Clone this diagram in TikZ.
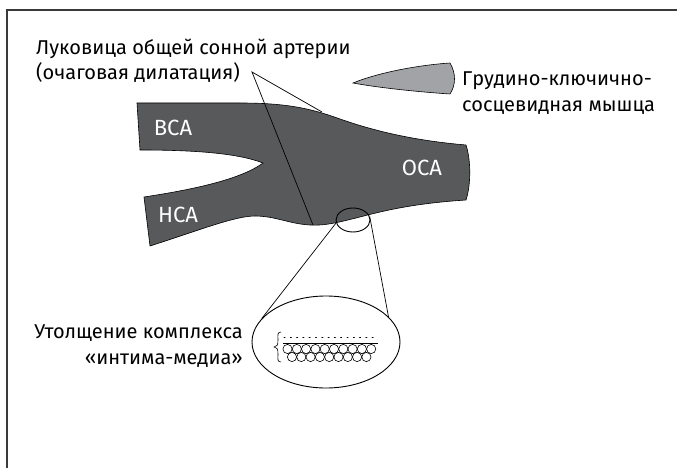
\documentclass[tikz,border=0pt]{standalone}
\usepackage{fontspec}
\setmainfont{Fira Sans}[Script=Cyrillic,Language=Bulgarian]
\usetikzlibrary{shapes.geometric}
\definecolor{vessel}{HTML}{58595B}
\definecolor{muscle}{HTML}{A2A3A6}
\definecolor{framec}{HTML}{3A3A3A}
\tikzset{
  label text/.style={font=\fontsize{20}{25.5}\selectfont, text=black, inner sep=0pt},
  vessel text/.style={font=\fontsize{22}{24}\selectfont, text=white, inner sep=0pt},
  pointer/.style={draw=black, line width=0.7pt},
  lens/.style={draw=black, ellipse, line width=0.9pt, inner sep=0pt},
}
\begin{document}
\begin{tikzpicture}[x=1pt,y=-1pt]
\useasboundingbox (0,0) rectangle (677,468);
% frame
\draw[framec, line width=1.4pt] (7,468) -- (7,10) -- (677,10);

% carotid bifurcation
\path[fill=vessel, draw=black, line width=0.6pt]
  (137,103) -- (240,103)
  .. controls (285,103) and (310,108) .. (340,119)
  .. controls (380,133) and (420,141) .. (466,145)
  .. controls (471,160) and (471,185) .. (466,200)
  .. controls (420,203) and (390,209) .. (360,217)
  .. controls (340,222) and (325,226) .. (310,225)
  .. controls (290,224) and (275,216) .. (255,216)
  .. controls (235,216) and (200,230) .. (150,246)
  -- (144,197)
  .. controls (190,190) and (240,180) .. (263,163)
  .. controls (240,154) and (200,150) .. (140,150)
  -- cycle;

% sternocleidomastoid muscle
\path[fill=muscle, draw=black, line width=0.6pt]
  (353,83) .. controls (380,72) and (420,65) .. (450,63)
  .. controls (456,73) and (456,85) .. (450,94)
  .. controls (420,92) and (380,88) .. (353,83) -- cycle;

\node[vessel text] (ica) at (173,128) {ВСА};
\node[vessel text] (eca) at (178,215) {НСА};
\node[vessel text] (cca) at (422,168) {ОСА};

% bulb label and pointers
\node[label text, anchor=west, align=left] (bulb) at (36,61)
  {Луковица общей сонной артерии\\(очаговая дилатация)};
\coordinate (apex) at (252,72);
\coordinate (bulbtop) at (322,112);
\coordinate (bulbbot) at (313,225);
\draw[pointer] (bulbtop) -- (apex) -- (bulbbot);

\node[label text, anchor=west, align=left] (scm) at (462,93)
  {Грудино-ключично-\\сосцевидная мышца};

% magnified wall
\node[lens, minimum width=34pt, minimum height=24pt] (spot) at (353,220) {};
\node[lens, minimum width=148pt, minimum height=92pt] (zoomed) at (326,342) {};
\draw[pointer] (spot.190) -- (zoomed.160);
\draw[pointer] (spot.12) -- (zoomed.22);

\node[label text, anchor=east, align=right] (imt) at (243,346)
  {Утолщение комплекса\\«интима-медиа»};

% intima-media layers with a thin brace
\coordinate (brace) at (274,347);
\draw[black, line width=0.6pt]
  (281,332) .. controls (277,332) and (278,335) .. (278,340)
  .. controls (278,345) and (277,347) .. (274,347)
  .. controls (277,347) and (278,349) .. (278,354)
  .. controls (278,359) and (277,362) .. (281,362);
\draw[black, line width=1pt, dash pattern=on 1pt off 5.3pt, line cap=round] (284,337) -- (378,337);
\draw[black, line width=0.8pt] (283,343.5) -- (378,343.5);
\foreach \i in {0,...,9} \draw[black, line width=0.6pt] (287.5+9.3*\i,349) circle (4.6);
\foreach \i in {0,...,8} \draw[black, line width=0.6pt] (292+9.3*\i,357) circle (4.6);
\end{tikzpicture}
\end{document}
